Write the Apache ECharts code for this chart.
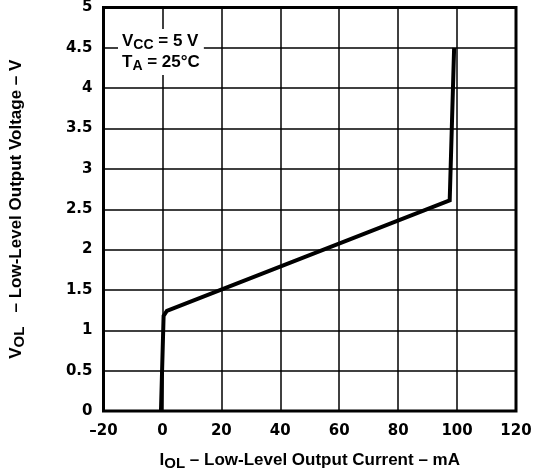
<!DOCTYPE html>
<html><head><meta charset="utf-8">
<script src="https://cdn.jsdelivr.net/npm/echarts@6/dist/echarts.min.js"></script>
<style>html,body{margin:0;padding:0;background:#fff}#c{width:542px;height:476px}</style>
</head><body><div id="c"></div>
<script>
const currentMA = [-0.5, 0.4, 1.5, 97.5, 99];
const voltageV = [0, 1.18, 1.24, 2.61, 4.5];
const xTicks = [-20, 0, 20, 40, 60, 80, 100, 120];
const yTicks = [0, 0.5, 1, 1.5, 2, 2.5, 3, 3.5, 4, 4.5, 5];
const FONT = '"Liberation Sans", Arial, sans-serif';
const TICKFONT = '"DejaVu Sans", sans-serif';

const chart = echarts.init(document.getElementById('c'));
const lbl = {color:'#000', fontWeight:'bold', fontSize:15, fontFamily:TICKFONT};
chart.setOption({
  animation:false,
  backgroundColor:'#fff',
  grid:{left:102, right:26, top:7, bottom:58, show:true, borderColor:'#000', borderWidth:3, backgroundColor:'transparent'},
  xAxis:{
    type:'value', min:xTicks[0], max:xTicks[xTicks.length-1], interval:20,
    axisLine:{show:false}, axisTick:{show:false},
    splitLine:{show:true, lineStyle:{color:'#000', width:1.5}},
    axisLabel:Object.assign({margin:13, formatter:v=>String(v).replace('-','\u2013')}, lbl),
    name:'{n|I}{s|OL}{n| \u2013 Low-Level Output Current \u2013 mA}',
    nameLocation:'middle', nameGap:38,
    nameTextStyle:{rich:{
      n:{fontSize:17, fontWeight:'bold', fontFamily:FONT, color:'#000', lineHeight:22, verticalAlign:'middle'},
      s:{fontSize:15, fontWeight:'bold', fontFamily:FONT, color:'#000', lineHeight:15, verticalAlign:'bottom'}
    }}
  },
  yAxis:{
    type:'value', min:yTicks[0], max:yTicks[yTicks.length-1], interval:0.5,
    axisLine:{show:false}, axisTick:{show:false},
    splitLine:{show:true, lineStyle:{color:'#000', width:1.5}},
    axisLabel:Object.assign({margin:11}, lbl),
    name:'{n|V}{s|OL}{n|   \u2013 Low-Level Output Voltage \u2013 V}',
    nameLocation:'middle', nameGap:76, nameRotate:90,
    nameTextStyle:{rich:{
      n:{fontSize:17, fontWeight:'bold', fontFamily:FONT, color:'#000', lineHeight:22, verticalAlign:'middle'},
      s:{fontSize:15, fontWeight:'bold', fontFamily:FONT, color:'#000', lineHeight:15, verticalAlign:'bottom'}
    }}
  },
  graphic:[{
    type:'text', left:118, top:29, z:10,
    style:{
      text:'{n|V}{s|CC}{n| = 5 V}\n{n|T}{s|A}{n| = 25°C}',
      backgroundColor:'#fff', padding:[2,4,2,4],
      rich:{
        n:{fontSize:17, fontWeight:'bold', fontFamily:FONT, fill:'#000', lineHeight:21, verticalAlign:'middle'},
        s:{fontSize:14, fontWeight:'bold', fontFamily:FONT, fill:'#000', lineHeight:14, verticalAlign:'bottom'}
      }
    }
  }],
  series:[{
    type:'line', showSymbol:false, symbol:'none',
    data:currentMA.map((x,i)=>[x, voltageV[i]]),
    lineStyle:{color:'#000', width:4, join:'miter'}
  }]
});
</script></body></html>
